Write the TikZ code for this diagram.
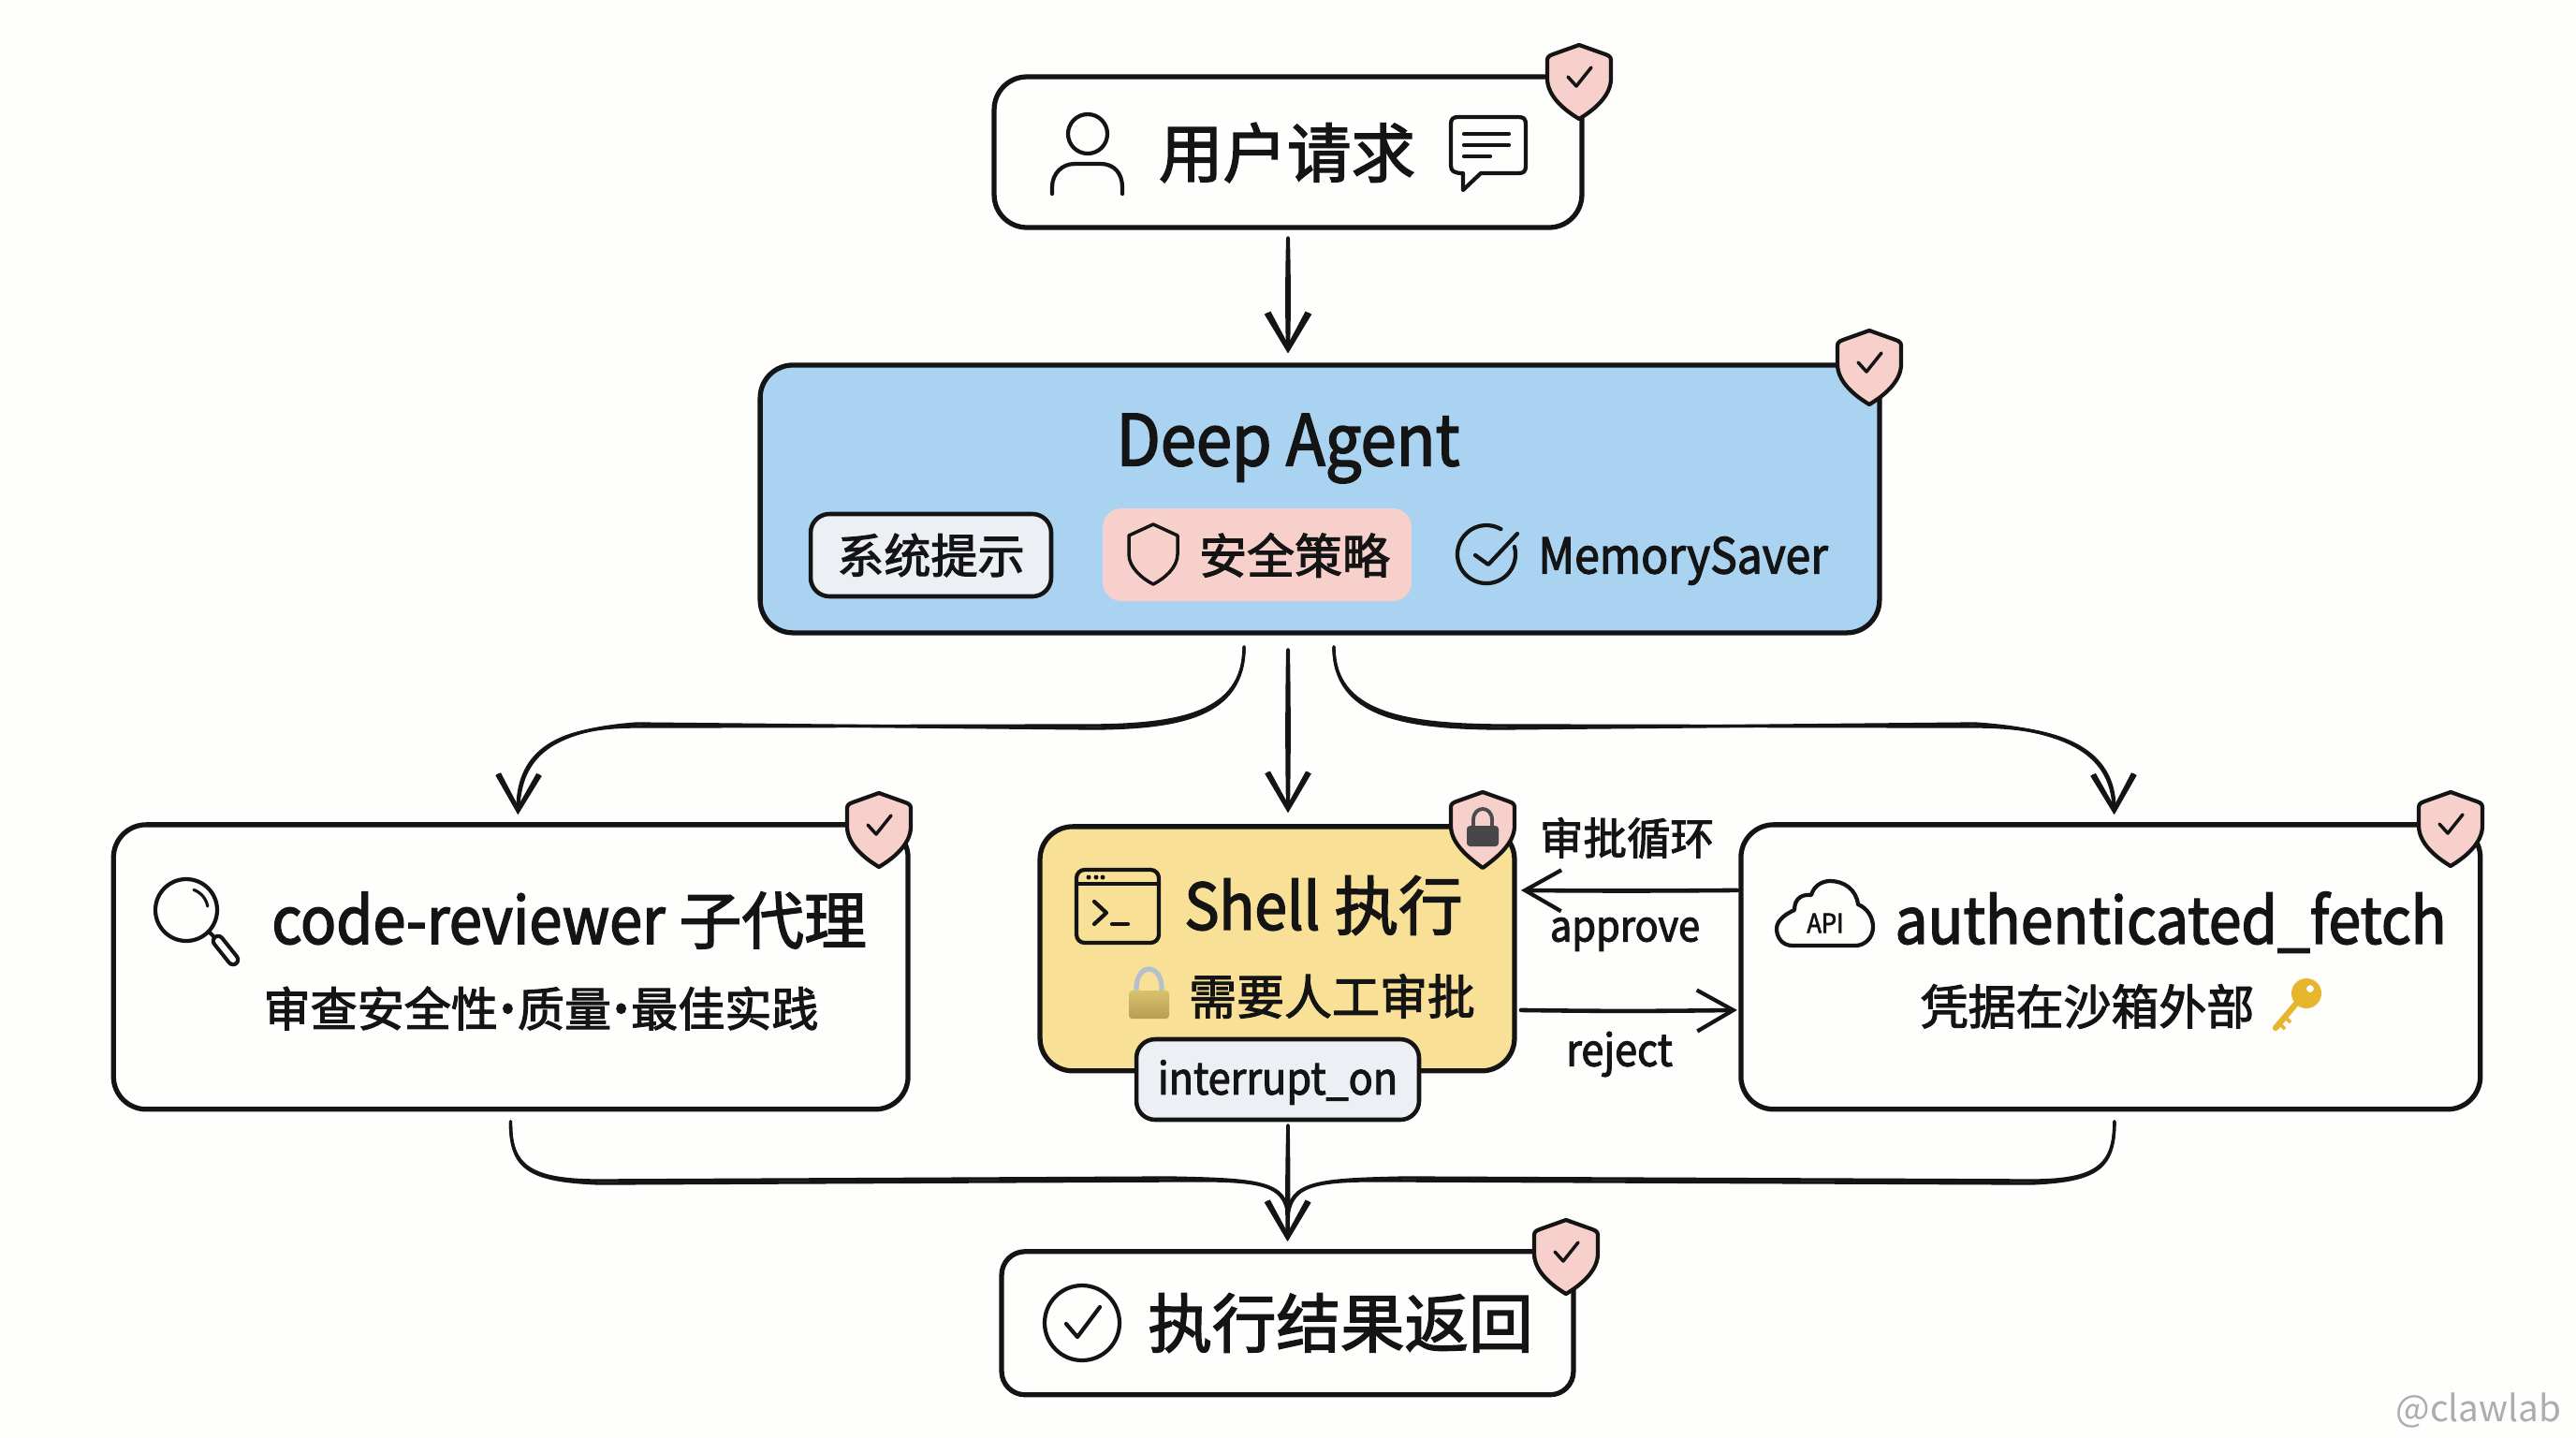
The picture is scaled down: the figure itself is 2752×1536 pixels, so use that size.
\documentclass[tikz,border=0pt]{standalone}
\usepackage{fontspec}
\setmainfont[FakeBold=2.2]{Noto Sans CJK SC}
\newfontfamily\latinf[FakeBold=2.2,FakeStretch=0.91]{Noto Sans CJK SC}
\newfontfamily\markf{Noto Sans CJK SC}
\usetikzlibrary{arrows.meta,positioning,calc,shadings}
\definecolor{pagebg}{HTML}{FEFEFD}
\definecolor{inkline}{HTML}{141414}
\definecolor{agentblue}{HTML}{A9D3F1}
\definecolor{shellyellow}{HTML}{F8E197}
\definecolor{shieldpink}{HTML}{F7D0CC}
\definecolor{taggrey}{HTML}{ECEFF3}
\definecolor{lockgold}{HTML}{D8C26E}
\definecolor{lockdark}{HTML}{B59E52}
\definecolor{lockgrey}{HTML}{B4C0CC}
\definecolor{keygold}{HTML}{E8B52E}
\newcommand{\fsize}[1]{\fontsize{#1}{#1}\selectfont}
\newcommand{\middot}{\makebox[0.42em]{\latinf ·}}
\tikzset{
  box/.style={draw=inkline,line width=3pt,rounded corners=0.7cm,outer sep=0pt,inner sep=0pt},
  tagbox/.style={draw=inkline,line width=2.6pt,fill=taggrey,rounded corners=0.4cm,outer sep=0pt,inner sep=0pt},
  label/.style={text=inkline,inner sep=0pt},
  iconline/.style={draw=inkline,line width=2.4pt,line cap=round,line join=round},
  joinline/.style={draw=inkline,line width=1.9pt,line cap=round},
  flow/.style={joinline,-{Straight Barb[length=22pt,width=25pt,line width=2.4pt]}},
  pics/shieldcheck/.style={code={
    \draw[iconline,fill=shieldpink] (0,0) -- (28,10) .. controls (34,12) and (34,14) .. (34,18)
      -- (34,36) .. controls (34,55) and (15,70) .. (0,79) .. controls (-15,70) and (-34,55) .. (-34,36)
      -- (-34,18) .. controls (-34,14) and (-34,12) .. (-28,10) -- cycle;
    \draw[iconline,line width=2pt] (-12,34) -- (-3,44) -- (13,24);
  }},
  pics/shieldlock/.style={code={
    \draw[iconline,fill=shieldpink] (0,0) -- (28,10) .. controls (34,12) and (34,14) .. (34,18)
      -- (34,36) .. controls (34,55) and (15,70) .. (0,81) .. controls (-15,70) and (-34,55) .. (-34,36)
      -- (-34,18) .. controls (-34,14) and (-34,12) .. (-28,10) -- cycle;
    \draw[draw=black!70,line width=2.2pt] (-10,38) -- (-10,30) .. controls (-10,14) and (10,14) .. (10,30) -- (10,38);
    \fill[black!72,rounded corners=2pt] (-17,36) rectangle (17,58);
  }},
}
\begin{document}
\begin{tikzpicture}[x=0.02cm,y=-0.02cm]
  \fill[pagebg] (0,0) rectangle (2752,1536);
  \useasboundingbox (0,0) rectangle (2752,1536);

  % main boxes
  \node[box,minimum width=12.56cm,minimum height=3.22cm] (user) at (1376,162.5) {};
  \node[box,fill=agentblue,minimum width=23.92cm,minimum height=5.72cm,below=2.94cm of user,xshift=0.68cm] (agent) {};
  \node[box,fill=shellyellow,minimum width=10.14cm,minimum height=5.22cm,below=4.14cm of agent,xshift=-0.91cm] (shell) {};
  \node[box,minimum width=16.98cm,minimum height=6.08cm,left=2.82cm of shell,yshift=-0.39cm] (reviewer) {};
  \node[box,minimum width=15.8cm,minimum height=6.08cm,right=4.84cm of shell,yshift=-0.39cm] (fetch) {};
  \node[box,rounded corners=0.5cm,minimum width=12.22cm,minimum height=3.06cm,below=3.86cm of shell,xshift=0.22cm] (result) {};
  \node[tagbox,minimum width=6.04cm,minimum height=1.72cm] (interrupt) at (1365,1153) {};

  % shields
  \pic at (1687,48) {shieldcheck};
  \pic at (1997,353) {shieldcheck};
  \pic at (939,847) {shieldcheck};
  \pic at (1584,846) {shieldlock};
  \pic at (2618,846) {shieldcheck};
  \pic at (1673,1303) {shieldcheck};

  % user box
  \node[label,font=\fsize{39}] (usertext) at (1375,163) {用户请求};
  \draw[iconline] (1162,143) circle [radius=21];
  \draw[iconline] (1124,207) -- (1124,200) .. controls (1124,185) and (1135,175) .. (1148,175) -- (1176,175)
    .. controls (1190,175) and (1199,185) .. (1199,200) -- (1199,207);
  \draw[iconline] (1558,125) -- (1622,125) .. controls (1628,125) and (1630,127) .. (1630,133) -- (1630,177)
    .. controls (1630,183) and (1628,185) .. (1622,185) -- (1582,185) -- (1563,203) -- (1563,185)
    .. controls (1554,185) and (1550,183) .. (1550,177) -- (1550,133) .. controls (1550,127) and (1552,125) .. (1558,125) -- cycle;
  \draw[iconline] (1564,143) -- (1612,143) (1564,155) -- (1612,155) (1564,167) -- (1592,167);

  % agent box
  \node[label,font=\latinf\fsize{43}] (agenttext) at (1376,479) {Deep Agent};
  \node[tagbox,minimum width=5.14cm,minimum height=1.76cm] (prompt) at (994.5,593) {};
  \node[label,font=\fsize{28.5}] (prompttext) at (prompt) {系统提示};
  \node[fill=shieldpink,rounded corners=0.4cm,minimum width=6.6cm,minimum height=1.98cm] (policy) at (1343,592.5) {};
  \node[label,font=\fsize{29}] (policytext) at (1383,593) {安全策略};
  \draw[iconline,line width=2pt] (1232,560) -- (1258,572) -- (1258,592) .. controls (1258,606) and (1244,618) .. (1232,624)
    .. controls (1220,618) and (1206,606) .. (1206,592) -- (1206,572) -- cycle;
  \draw[iconline] (1603.5,565.2) arc (-60:-375:31);
  \draw[iconline] (1576,593) -- (1590,603) -- (1621,570);
  \node[label,font=\latinf\fsize{30}] (memorytext) at (1798,599) {MemorySaver};

  % reviewer box
  \draw[iconline] (199,972) circle [radius=33];
  \draw[iconline,line width=1.8pt] (207,950.4) arc (-70:-10:23);
  \draw[iconline] (223,995) -- (229,1001);
  \draw[iconline,double=pagebg,double distance=3.5pt] (233,1005) -- (249,1025);
  \node[label,font=\fsize{38}] (reviewertext) at (601,983) {{\latinf\fsize{39.5} code-reviewer} 子代理};
  \node[label,font=\fsize{28.5}] (reviewersub) at (578,1077) {审查安全性\middot 质量\middot 最佳实践};

  % shell box
  \draw[iconline,rounded corners=5pt] (1150,929) rectangle (1238,1007);
  \draw[iconline] (1150,944) -- (1238,944);
  \foreach \dotx in {1163,1171,1178}
    \fill[inkline] (\dotx,937) circle [radius=2.5];
  \draw[iconline] (1169,963) -- (1182,975) -- (1169,987);
  \draw[iconline] (1188,987) -- (1205,987);
  \node[label,font=\fsize{39}] (shelltext) at (1414,967) {{\latinf Shell} 执行};
  \draw[draw=lockgrey,line width=3pt] (1214,1060) -- (1214,1056) .. controls (1214,1028) and (1241,1028) .. (1241,1056) -- (1241,1060);
  \shade[top color=lockgold,bottom color=lockdark,rounded corners=2pt] (1206,1058) rectangle (1249,1088);
  \node[label,font=\fsize{29}] (shellsub) at (1423,1064) {需要人工审批};
  \node[label,font=\latinf\fsize{27}] (interrupttext) at ([yshift=-0.06cm]interrupt) {interrupt\_on};

  % fetch box
  \draw[iconline] (1915,1010) .. controls (1903,1010) and (1898,1000) .. (1898,992) .. controls (1898,982) and (1910,975) .. (1917,972)
    .. controls (1917,958) and (1927,955) .. (1935,956) .. controls (1938,945) and (1948,941) .. (1955,941)
    .. controls (1970,941) and (1983,950) .. (1985,966) .. controls (1995,970) and (2001,980) .. (2001,990)
    .. controls (2001,1002) and (1992,1010) .. (1982,1010) -- cycle;
  \node[label,font=\latinf\fsize{16}] (apitext) at (1950,986) {API};
  \node[label,font=\latinf\fsize{39}] (fetchtext) at (2319,985) {authenticated\_fetch};
  \node[label,font=\fsize{29}] (fetchsub) at (2230,1075) {凭据在沙箱外部};
  \draw[draw=keygold,line width=3.6pt,line cap=round] (2453,1072) -- (2431,1098);
  \draw[draw=keygold,line width=2.2pt] (2441,1086) -- (2447,1092) (2435,1093) -- (2441,1099);
  \fill[keygold,even odd rule] (2464,1061) circle [radius=16] (2468,1056) circle [radius=4];

  % result box
  \draw[iconline] (1156,1413) circle [radius=40];
  \draw[iconline] (1139,1414) -- (1151,1428) -- (1175,1396);
  \node[label,font=\fsize{39}] (resulttext) at (1432,1413) {执行结果返回};

  % labels beside the loop
  \node[label,font=\fsize{26.5}] (looptext) at (1738,895) {审批循环};
  \node[label,font=\latinf\fsize{26}] (approvetext) at (1736,998) {approve};
  \node[label,font=\latinf\fsize{27}] (rejecttext) at (1730,1126) {reject};

  % straight connectors, drawn twice for the sketched look
  \foreach \side in {left,right} {
    \draw[flow,shorten <=0.22cm,shorten >=0.26cm] ([xshift=0cm]user.south) to[bend \side=1.5] ([xshift=-0.68cm]agent.north);
    \draw[flow,shorten <=0.36cm,shorten >=0.3cm] ([xshift=-0.68cm]agent.south) to[bend \side=1] ([xshift=0.23cm]shell.north);
    \draw[flow,shorten <=0.12cm,shorten >=0.22cm] ([xshift=0.22cm]interrupt.south) to[bend \side=1.2] (result.north);
  }
  \draw[flow,line width=2.6pt,shorten <=0.08cm,shorten >=0.14cm] ([yshift=1.64cm]fetch.west) to[bend left=0.5] ([yshift=1.64cm]fetch.west -| shell.east);
  \draw[flow,line width=2.6pt,shorten <=0.14cm,shorten >=0.08cm] ([yshift=-1.31cm]shell.east) to[bend right=0.8] ([yshift=-1.31cm]shell.east -| fetch.west);

  % curved connectors
  \foreach \d in {0,3} {
    \draw[flow,shorten <=0.3cm,shorten >=0.22cm] ([xshift=-1.62cm]agent.south) .. controls (1329,762+\d) and (1260,774+\d) .. (1170,775+\d)
      -- (680,776-\d) .. controls (600,776+\d) and (553+\d,800) .. ([xshift=0.15cm]reviewer.north);
    \draw[flow,shorten <=0.3cm,shorten >=0.22cm] ([xshift=0.3cm]agent.south) .. controls (1425,762+\d) and (1500,774+\d) .. (1600,775+\d)
      -- (2110,776-\d) .. controls (2200,776+\d) and (2259-\d,800) .. ([xshift=0.08cm]fetch.north);
    \draw[joinline,shorten <=0.26cm,shorten >=0.7cm] (reviewer.south) .. controls (545,1245+\d) and (565,1261) .. (640,1261+\d)
      -- (1250,1258+\d) .. controls (1345,1260) and (1376-\d,1262) .. (1376,1300) -- (result.north);
    \draw[joinline,shorten <=0.26cm,shorten >=0.7cm] ([xshift=0.08cm]fetch.south) .. controls (2259,1245+\d) and (2240,1261) .. (2170,1261+\d)
      -- (1500,1258+\d) .. controls (1410,1260) and (1376+\d,1262) .. (1376,1300) -- (result.north);
  }

  \node[text=black!32,font=\markf\fsize{22},inner sep=0pt] (mark) at (2648,1506) {@clawlab};
\end{tikzpicture}
\end{document}
